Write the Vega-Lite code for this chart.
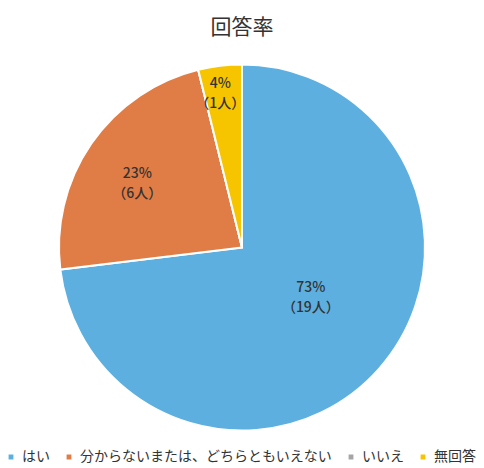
{
  "$schema": "https://vega.github.io/schema/vega-lite/v6.json",
  "width": 484,
  "height": 468,
  "autosize": {"type": "fit", "contains": "padding"},
  "padding": {"top": 17, "left": 4, "right": 4, "bottom": 4},
  "background": "white",
  "title": {"text": "回答率", "fontSize": 21, "font": "Noto Sans CJK JP", "fontWeight": "normal", "color": "#333333", "offset": 17},
  "data": {"values": [
    {"answer": "はい", "count": 19, "k": 1, "label": "73%\n（19人）"},
    {"answer": "分からないまたは、どちらともいえない", "count": 6, "k": 2, "label": "23%\n（6人）"},
    {"answer": "いいえ", "count": 0, "k": 3, "label": ""},
    {"answer": "無回答", "count": 1, "k": 4, "label": "4%\n（1人）"}
  ]},
  "encoding": {
    "theta": {"field": "count", "type": "quantitative", "stack": true},
    "order": {"field": "k", "type": "quantitative"},
    "color": {
      "field": "answer", "type": "nominal",
      "scale": {"domain": ["はい", "分からないまたは、どちらともいえない", "いいえ", "無回答"], "range": ["#5dafe0", "#e07c45", "#a5a5a5", "#f6c500"]},
      "legend": {"orient": "bottom", "direction": "horizontal", "title": null, "symbolType": "square", "symbolSize": 40, "labelFontSize": 14, "labelLimit": 0, "labelFont": "Noto Sans CJK JP", "labelColor": "#333333", "columnPadding": 12, "symbolOffset": 0, "labelOffset": 4, "offset": 10, "padding": 0}
    }
  },
  "layer": [
    {"mark": {"type": "arc", "outerRadius": 183, "stroke": "white", "strokeWidth": 2}},
    {"mark": {"type": "text", "radius": 84, "dx": 6, "dy": -15, "fontSize": 14, "fontWeight": 500, "font": "Noto Sans CJK JP", "lineBreak": "\n", "lineHeight": 20},
     "encoding": {"text": {"condition": {"test": "datum.k == 1", "field": "label"}, "value": ""}, "color": {"value": "#333333"}}},
    {"mark": {"type": "text", "radius": 120, "dx": -6, "dy": -5, "fontSize": 14, "fontWeight": 500, "font": "Noto Sans CJK JP", "lineBreak": "\n", "lineHeight": 20},
     "encoding": {"text": {"condition": {"test": "datum.k == 2", "field": "label"}, "value": ""}, "color": {"value": "#333333"}}},
    {"mark": {"type": "text", "radius": 155, "dx": -3, "dy": -10, "fontSize": 14, "fontWeight": 500, "font": "Noto Sans CJK JP", "lineBreak": "\n", "lineHeight": 20},
     "encoding": {"text": {"condition": {"test": "datum.k == 4", "field": "label"}, "value": ""}, "color": {"value": "#333333"}}}
  ]
}
